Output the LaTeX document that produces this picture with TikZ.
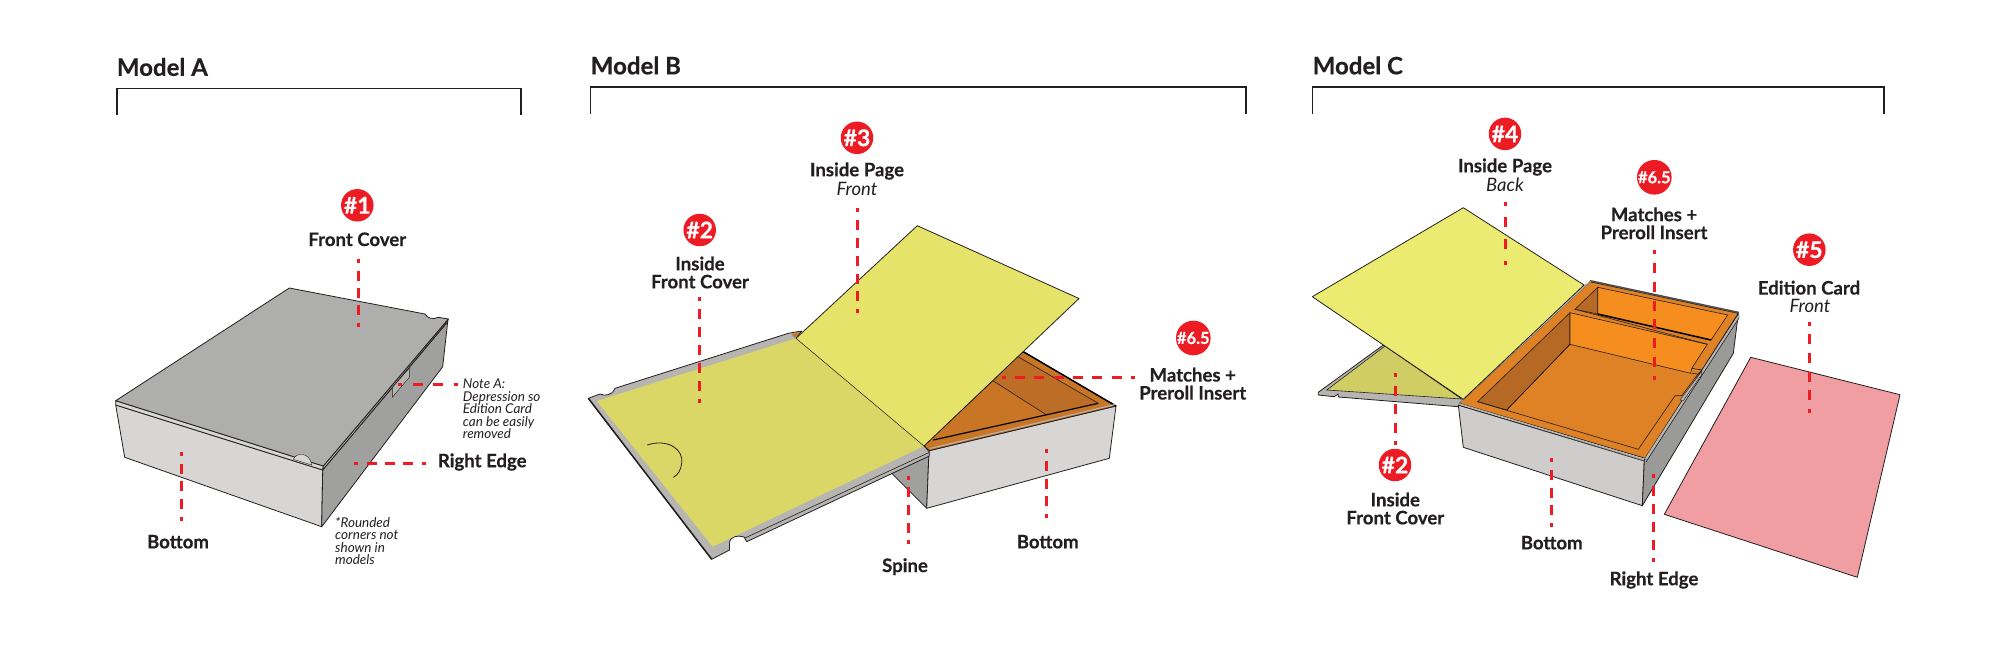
\documentclass[tikz,border=0pt]{standalone}
\usepackage{fontspec}
\setmainfont{Lato}[BoldFeatures={FakeBold=0.4}]
\definecolor{leadred}{HTML}{ED1C24}
\definecolor{inkdark}{HTML}{231F20}
\definecolor{lidgray}{HTML}{AEAEAC}
\definecolor{frontgray}{HTML}{D7D6D4}
\definecolor{sidegray}{HTML}{A0A09E}
\definecolor{framegray}{HTML}{B6B5B1}
\definecolor{pagedim}{HTML}{DAD766}
\definecolor{pagefront}{HTML}{E5E36A}
\definecolor{pageback}{HTML}{ECEB71}
\definecolor{pagelow}{HTML}{CFCD64}
\definecolor{burnt}{HTML}{C87526}
\definecolor{burntdark}{HTML}{BC6E27}
\definecolor{rimorange}{HTML}{DF8125}
\definecolor{wallorange}{HTML}{F68E1F}
\definecolor{shadeorange}{HTML}{B66925}
\definecolor{cardpink}{HTML}{F09EA1}
\tikzset{
  face/.style={draw=inkdark, line width=0.8pt, line join=round},
  thinline/.style={draw=inkdark, line width=0.6pt},
  heavyline/.style={draw=black, line width=1.5pt},
  leader/.style={draw=leadred, line width=3pt},
  bracket/.style={draw=inkdark, line width=1.7pt},
  title/.style={font=\fontsize{24}{26}\bfseries\selectfont, text=inkdark, anchor=west, inner sep=0pt},
  lab/.style={font=\fontsize{18.6}{18}\bfseries\selectfont, text=inkdark, align=center, inner sep=0pt},
  sublab/.style={font=\fontsize{18.5}{18}\itshape\selectfont, text=inkdark, inner sep=0pt},
  note/.style={font=\fontsize{13.5}{12.5}\itshape\selectfont, text=inkdark, align=left, anchor=north west, inner sep=0pt},
  badge/.style={circle, fill=leadred, text=white, minimum size=32.5pt, inner sep=0pt, font=\fontsize{23}{24}\bfseries\selectfont},
  smallbadge/.style={badge, font=\fontsize{16.5}{18}\bfseries\selectfont}
}
\begin{document}
\begin{tikzpicture}[x=1pt, y=-1pt]
    \useasboundingbox (0,0) rectangle (2000,645);
    % Brackets and titles
    \foreach \nm/\lab/\xl/\xr/\yt in {modelA/A/116.7/520.7/88.5, modelB/B/590.6/1246.2/87, modelC/C/1312.5/1884/87} {
        \draw[bracket] (\xl,\yt+26.5) -- (\xl,\yt) -- (\xr,\yt) -- (\xr,\yt+26.5);
        \node[title] (\nm) at (\xl,\yt-21.5) {Model \lab};
    }

    % Model A: closed box
    \fill[face, fill=frontgray] (115.7,405) -- (124.7,457.3) -- (321.7,526.7) -- (322.7,470) -- cycle;
    \fill[face, fill=sidegray] (322.7,470) -- (321.7,526.7) -- (442.7,366.7) -- (447.7,321.7) -- cycle;
    \fill[face, fill=framegray, thin] (392.3,386.7) -- (409.3,368.3) -- (409.3,377.3) -- (392.3,397.3) -- cycle;
    % lid edges
    \fill[face, fill=frontgray] (115.7,400.7) -- (323.3,466) -- (322.7,470) -- (115.7,405) -- cycle;
    \fill[face, fill=framegray] (323.3,466) -- (448.3,319) -- (447.7,321.7) -- (322.7,470) -- cycle;
    % lid
    \fill[face, fill=lidgray] (115.7,400.7) -- (289.3,288) -- (425,314)
        .. controls (427,318) and (433,320) .. (438.3,317.3) -- (448.3,319) -- (323.3,466) -- cycle;
    \fill[face, fill=frontgray, thin] (293.3,459.3) .. controls (296,452) and (310,452) .. (311.7,465) -- cycle;

    % Model B: box under the open cover
    \fill[face, fill=sidegray] (891.7,473.3) -- (926.7,508.3) -- (929,451) -- cycle;
    \fill[face, fill=frontgray] (929,450.7) -- (1116,406) -- (1109.3,458.3) -- (926.7,508.3) -- cycle;
    \fill[face, fill=burnt] (924,445.7) -- (1023.3,351.7) -- (1116,406) -- (929,450.7) -- cycle;
    \fill[fill=burntdark] (993.3,381) -- (1018,356.7) -- (1098.3,403.3) -- (1046.7,415) -- cycle;
    \draw[thinline] (993.3,381) -- (1046.7,415);
    \draw[thinline] (1018,356.7) -- (1098.3,403.3);
    \draw[heavyline, line width=1.2pt] (933.3,440) -- (1098.3,403.3);
    \draw[heavyline] (1023.3,351.7) -- (1116,406);
    \draw[draw=framegray, line width=1.1pt] (930,448.5) -- (1115,404.5);
    % cover frame, lying open
    \fill[face, fill=framegray] (588.3,398.3) -- (600,394)
        .. controls (604,396) and (612,396) .. (615,388.3) -- (788.3,333.3) -- (801.7,331) -- (796,338.3)
        -- (924,446) -- (929.3,451.7) -- (929.3,456) -- (746.7,541.7) -- (744,537)
        .. controls (738,535) and (730,536) .. (729.5,543) -- (729.5,550) -- (711.7,559.3) -- cycle;
    \fill[burnt] (791.5,334.3) -- (800,332) -- (795,338) -- cycle;
    \draw[thinline] (745,538) -- (929,452.5);
    \draw[heavyline, draw=inkdark] (588.3,398.3) -- (711.7,559.3);
    % inside cover and inside page
    \fill[fill=pagedim] (596.7,401) -- (796,338.3) -- (924,446) -- (712.7,546.7) -- cycle;
    \draw[thinline, line width=0.8pt] (647.3,445) .. controls (668,438) and (684,450) .. (681.7,463)
        .. controls (681,470) and (678,475) .. (673.3,477.3);
    \fill[fill=pagefront] (796,338.3) -- (917.3,225.7) -- (1079,298.5) -- (924,446) -- cycle;
    \draw[face] (796,338.3) -- (917.3,225.7) -- (1079,298.5) -- (924,446);
    \draw[thinline, line width=0.5pt] (796,338.3) -- (924,446);

    % Model C: open box
    \fill[face, fill=framegray] (1383.3,345) -- (1318.3,392.3) -- (1318.3,395) -- (1334,396.7) -- (1338.3,394)
        -- (1338.3,397) -- (1458.3,406.7) -- (1464,399) -- cycle;
    \fill[thinline, fill=pagelow] (1385,346) -- (1326.7,390) -- (1461.7,399) -- cycle;
    \fill[face, fill=frontgray!96!black] (1458.3,405) -- (1463.3,447.3) -- (1642.3,505.7) -- (1644.3,460) -- cycle;
    \fill[face, fill=sidegray!96!black] (1644.3,460) -- (1642.3,505.7) -- (1733.3,353.3) -- (1738.3,314) -- cycle;
    \fill[face, fill=rimorange] (1459.3,403.3) -- (1590,281.7) -- (1738.3,313.3) -- (1645,458.3) -- cycle;
    % lid rim
    \draw[draw=framegray, line width=2.4pt] (1646,459) -- (1739,316);
    \draw[thinline] (1646,462) -- (1739,318);
    \draw[heavyline, draw=inkdark!80] (1590,280.7) -- (1739,312.5);
    \draw[draw=framegray, line width=1.6pt] (1459.3,404) -- (1644,459.5);
    \draw[thinline] (1459.3,405.5) -- (1644,461);
    % front compartment
    \fill[thinline, fill=shadeorange] (1477.7,401.7) -- (1570,312.7) -- (1570,344.3) -- (1506.7,410) -- cycle;
    \fill[thinline, fill=wallorange] (1570,312.7) -- (1707.3,344.3) -- (1691.7,368.3) -- (1690.7,373.3) -- (1570,344.3) -- cycle;
    \draw[thinline] (1477.7,401.7) -- (1638.3,449.3) -- (1675,395.7) -- (1681.7,395.7) -- (1698,374) -- (1691.7,373.3);
    \draw[thinline] (1692,368.3) -- (1702,370) -- (1698,374);
    \draw[thinline] (1506.7,410) -- (1570,344.3);
    \draw[thinline] (1575,309.3) -- (1707.3,344.3);
    % back compartment
    \fill[thinline, fill=shadeorange] (1575,309.3) -- (1597.7,287.3) -- (1597.7,314) -- cycle;
    \fill[thinline, fill=wallorange] (1597.7,287.3) -- (1727.7,315) -- (1711,340) -- (1597.7,314) -- cycle;
    \draw[heavyline] (1597.7,314) -- (1711,340);
    % card slot on the right edge
    \fill[face, fill=framegray, thin] (1683,401) -- (1701.5,375) -- (1702,371) -- (1680,400) -- cycle;
    % inside page, folded back
    \fill[draw=framegray, fill=framegray] (1463.3,399.3) -- (1584,285) -- (1590,281.7) -- (1459.3,403.3) -- cycle;
    \fill[face, fill=pageback] (1312.3,296.7) -- (1463.3,207.7) -- (1584,285) -- (1463.3,399.3) -- cycle;
    % edition card
    \fill[face, fill=cardpink] (1750.7,357.3) -- (1900,394.7) -- (1857.3,577.3) -- (1664.3,514.3) -- cycle;

    % Leaders: each ends in a short stub at both ends
    \foreach \nm/\xa/\ya/\xb/\yb in {aFront/358/259.3/358/326.7, aNote/398/384.3/457.7/384.3, aRight/354.3/463.3/425.7/463.3,
        aBottom/181/451.7/181/521, bInside/699.3/297.3/699.3/403.3, bPage/857.7/208.3/857.7/313.3,
        bMatches/1001.7/377.7/1135/377.7, bSpine/908.3/475.7/908.3/544.3, bBottom/1046.7/449/1046.7/518.3,
        cPage/1505.7/201.7/1505.7/265, cMatches/1654.3/250/1654.3/380, cCard/1809.3/321.7/1809.3/412.7,
        cInside/1395.7/373.3/1395.7/445, cBottom/1551/457.7/1551/527.3, cRight/1653.3/474/1653.3/562} {
        \pgfmathsetmacro\len{veclen(\xb-\xa,\yb-\ya)}
        \pgfmathsetmacro\cnt{round((\len+2)/19)}
        \pgfmathsetmacro\gapl{(\len-8-(\cnt-1)*10)/\cnt}
        \coordinate (\nm Start) at (\xa,\ya);
        \coordinate (\nm End) at (\xb,\yb);
        \draw[leader, dash pattern=on 10pt off \gapl pt, dash phase=6pt] (\nm Start) -- (\nm End);
    }

    % Badges
    \node[badge] (aOne) at (357.3,205.3) {\#1};
    \node[badge] (bTwo) at (699.7,230) {\#2};
    \node[badge] (bThree) at (857,137.8) {\#3};
    \node[smallbadge] (bSix) at (1193.3,338) {\#6.5};
    \node[badge] (cFour) at (1505,133.9) {\#4};
    \node[smallbadge] (cSix) at (1654.3,177.3) {\#6.5};
    \node[badge] (cFive) at (1809.3,249.7) {\#5};
    \node[badge] (cTwo) at (1395,465) {\#2};

    % Labels, model A
    \node[lab] (aFrontLab) at (357.3,239.3) {Front Cover};
    \node[lab] (aRightLab) at (437.7,462) [anchor=west] {Right Edge};
    \node[lab] (aBottomLab) at (178,541.7) {Bottom};
    \node[note] (aNoteLab) at (462.7,379) {Note A:\\Depression so\\Edition Card\\can be easily\\removed};
    \node[note] (aStarLab) at (335,517) {*Rounded\\corners not\\shown in\\models};
    % Labels, model B
    \node[lab] (bInsideLab) at (700,272.5) {Inside\\Front Cover};
    \node[lab] (bPageLab) at (857,171) {Inside Page};
    \node[sublab] (bPageSub) at (857,189) {Front};
    \node[lab] (bMatchesLab) at (1192.7,383.7) {Matches +\\Preroll Insert};
    \node[lab] (bSpineLab) at (905,566.7) {Spine};
    \node[lab] (bBottomLab) at (1047.7,541.7) {Bottom};
    % Labels, model C
    \node[lab] (cPageLab) at (1505,167) {Inside Page};
    \node[sublab] (cPageSub) at (1505,185) {Back};
    \node[lab] (cMatchesLab) at (1654,223.3) {Matches +\\Preroll Insert};
    \node[lab] (cCardLab) at (1809,287.7) {Edition Card};
    \node[sublab] (cCardSub) at (1810,305.7) {Front};
    \node[lab] (cInsideLab) at (1395.3,508.5) {Inside\\Front Cover};
    \node[lab] (cBottomLab) at (1551.7,542.7) {Bottom};
    \node[lab] (cRightLab) at (1654,580) {Right Edge};
\end{tikzpicture}
\end{document}
